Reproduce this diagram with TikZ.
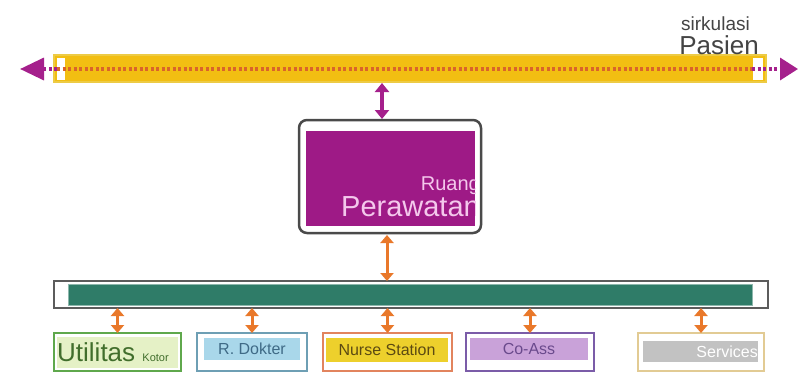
\documentclass[tikz,border=0pt]{standalone}
\usepackage{fontspec}
\setmainfont{Liberation Sans}
\usetikzlibrary{arrows.meta}

\definecolor{barFill}{HTML}{F2BE12}
\definecolor{barEdge}{HTML}{EDCB45}
\definecolor{dotRed}{HTML}{D9642A}
\definecolor{circPurple}{HTML}{A5208C}
\definecolor{roomPurple}{HTML}{9E1A86}
\definecolor{roomText}{HTML}{F4C8EC}
\definecolor{frameGray}{HTML}{4A4A4A}
\definecolor{corrTeal}{HTML}{2F7C68}
\definecolor{corrEdge}{HTML}{5C5C5C}
\definecolor{linkOrange}{HTML}{E9782A}
\definecolor{utilEdge}{HTML}{5FA84C}
\definecolor{utilFill}{HTML}{E5F1C6}
\definecolor{utilText}{HTML}{416E2C}
\definecolor{dokEdge}{HTML}{6E9FB4}
\definecolor{dokFill}{HTML}{A9D7EA}
\definecolor{dokText}{HTML}{3F6A86}
\definecolor{nurEdge}{HTML}{E2845E}
\definecolor{nurFill}{HTML}{EDD02C}
\definecolor{nurText}{HTML}{5C4A12}
\definecolor{coEdge}{HTML}{7B5CA8}
\definecolor{coFill}{HTML}{C9A2D9}
\definecolor{coText}{HTML}{6A4A8C}
\definecolor{svEdge}{HTML}{E2CB94}
\definecolor{svFill}{HTML}{C2C2C2}
\definecolor{labelGray}{HTML}{444444}

\tikzset{
  box/.style={rectangle, inner sep=0pt, outer sep=0pt},
  roombox/.style={box, draw=#1, line width=2pt, fill=white,
    minimum height=38pt},
  pillbox/.style={box, minimum height=22pt},
  purplelink/.style={draw=circPurple, line width=3.5pt,
    {Triangle[length=9pt,width=14pt]}-{Triangle[length=9pt,width=14pt]}},
  orangelink/.style={draw=linkOrange, line width=3pt,
    {Triangle[length=8pt,width=13pt]}-{Triangle[length=8pt,width=13pt]}},
  dotline/.style={line width=3.5pt, dash pattern=on 3pt off 2.5pt},
}

\begin{document}
\begin{tikzpicture}[x=1pt,y=-1pt]
\useasboundingbox (0,0) rectangle (798,376);
\fill[white] (0,0) rectangle (798,376);

% patient circulation band
\node[box, draw=barEdge, fill=barFill, line width=2pt,
      minimum width=712pt, minimum height=27pt] (pbar) at (410,68.5) {};
\fill[white] (57,58) rectangle (65,80);
\fill[white] (753,58) rectangle (763,80);
\coordinate (pL) at (20,69);
\coordinate (pR) at (798,69);
\coordinate (pLin) at (57,69);
\coordinate (pRin) at (752,69);
\draw[dotline, draw=dotRed] (pLin) -- (pRin);
\draw[dotline, draw=circPurple,
      -{Triangle[length=24pt,width=22pt]}] (pLin) -- (pL);
\draw[dotline, draw=circPurple,
      -{Triangle[length=18pt,width=22pt]}] (pRin) -- (pR);
\node[anchor=south east, inner sep=0pt, text=labelGray,
      font=\fontsize{19}{19}\selectfont] (sirk) at (750,30.5) {sirkulasi};
\node[anchor=south east, inner sep=0pt, text=labelGray,
      font=\fontsize{26}{26}\selectfont] (pas) at (759,55) {Pasien};

% ward room
\node[box, draw=frameGray, line width=2.5pt, rounded corners=8pt,
      fill=white, minimum width=182pt, minimum height=113pt]
      (room) at (390,176.5) {};
\node[box, fill=roomPurple, minimum width=169pt, minimum height=95pt]
      (roomin) at (390.5,178.5) {};
\begin{scope}
  \clip (306,131) rectangle (475,226);
  \node[anchor=south east, inner sep=0pt, text=roomText,
        font=\fontsize{20}{20}\selectfont] (ruang) at (480,195) {Ruang};
  \node[anchor=south east, inner sep=0pt, text=roomText,
        font=\fontsize{29}{29}\selectfont] (perw) at (480,217) {Perawatan};
\end{scope}

\coordinate (upA) at (382,83);
\coordinate (upB) at (382,119);
\draw[purplelink] (upA) -- (upB);

% service corridor
\node[box, draw=corrEdge, line width=2pt, fill=white,
      minimum width=714pt, minimum height=27pt] (cbar) at (411,294.5) {};
\node[box, fill=corrTeal, draw=corrTeal!55!white, line width=0.8pt,
      minimum width=684pt, minimum height=21pt] (cin) at (410,294.5) {};

\coordinate (dnA) at (387,235);
\draw[orangelink] (dnA) -- (dnA |- cbar.north);

% support rooms
\node[roombox=utilEdge, minimum width=127pt] (util) at (117.5,352) {};
\node[box, fill=utilFill, minimum width=121pt, minimum height=31pt]
      at (117.5,352) {};
\node[anchor=base west, inner sep=0pt, text=utilText,
      font=\fontsize{26}{26}\selectfont] (utl) at (57,361)
      {Utilitas \fontsize{11}{11}\selectfont Kotor};

\node[roombox=dokEdge, minimum width=110pt] (dok) at (252,352) {};
\node[pillbox, fill=dokFill, minimum width=96pt, text=dokText,
      font=\fontsize{16}{16}\selectfont] (dokl) at (252,349) {R. Dokter};

\node[roombox=nurEdge, minimum width=129pt] (nur) at (387.5,352) {};
\node[pillbox, fill=nurFill, minimum width=122pt, minimum height=24pt,
      text=nurText, font=\fontsize{16}{16}\selectfont]
      (nurl) at (387,350) {Nurse Station};

\node[roombox=coEdge, minimum width=128pt] (coas) at (530,352) {};
\node[pillbox, fill=coFill, minimum width=118pt, text=coText,
      font=\fontsize{16}{16}\selectfont] (coasl) at (529,349) {Co-Ass};

\node[roombox=svEdge, minimum width=126pt] (serv) at (701,352) {};
\node[pillbox, fill=svFill, minimum width=115pt, minimum height=21pt]
      (servl) at (700.5,351.5) {};
\node[anchor=east, inner sep=0pt, text=white,
      font=\fontsize{16}{16}\selectfont] at (servl.east) {Services};

\foreach \r in {util,dok,nur,coas,serv}
  \draw[orangelink] (\r.north |- cbar.south) -- (\r.north);
\end{tikzpicture}
\end{document}
